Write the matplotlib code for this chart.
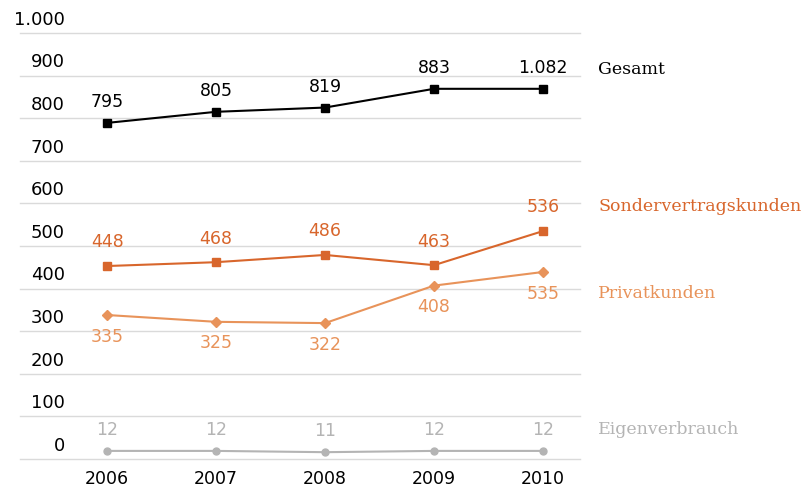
import numpy as np
import matplotlib
matplotlib.use('Agg')
import matplotlib.pyplot as plt
import matplotlib.transforms as mtrans

# data
years = [2006, 2007, 2008, 2009, 2010]
gesamt = [789, 815, 825, 869, 869]
sonder = [453, 462, 479, 455, 535]
privat = [338, 322, 319, 407, 439]
eigen = [19, 19, 16, 19, 19]

# printed labels (as in the original)
gesamt_lbl = ['795', '805', '819', '883', '1.082']
sonder_lbl = ['448', '468', '486', '463', '536']
privat_lbl = ['335', '325', '322', '408', '535']
eigen_lbl = ['12', '12', '11', '12', '12']

yticks = [0, 100, 200, 300, 400, 500, 600, 700, 800, 900, 1000]
ytick_lbl = ['0', '100', '200', '300', '400', '500', '600', '700', '800', '900', '1.000']

c_ges = '#000000'
c_son = '#D8662C'
c_pri = '#E8935A'
c_eig = '#B4B4B4'

W, H = 805, 493
fig = plt.figure(figsize=(W/100, H/100), dpi=100)
ax = fig.add_axes([20/W, 34/H, 560/W, 426/H])
ax.set_xlim(2005.2, 2010.34)
ax.set_ylim(0, 1000)
for s in ax.spines.values():
    s.set_visible(False)
ax.set_yticks([])
ax.set_xticks(years)
ax.set_xticklabels([str(y) for y in years], fontsize=12.5)
ax.tick_params(axis='x', length=0, pad=8)

for v in yticks:
    ax.axhline(v, color='#DADADA', lw=1, zorder=0, clip_on=False)

trans = mtrans.blended_transform_factory(ax.transAxes, ax.transData)
for v, l in zip(yticks, ytick_lbl):
    ax.annotate(l, xy=(0.08, v), xycoords=trans, xytext=(0, 9.5),
                textcoords='offset points', ha='right', va='center', fontsize=13)

ax.plot(years, gesamt, color=c_ges, marker='s', ms=6, lw=1.5)
ax.plot(years, sonder, color=c_son, marker='s', ms=6, lw=1.5)
ax.plot(years, privat, color=c_pri, marker='D', ms=5, lw=1.5)
ax.plot(years, eigen, color=c_eig, marker='o', ms=5, lw=1.5)

def labels(vals, lbls, col, dy):
    for x, v, l in zip(years, vals, lbls):
        ax.annotate(l, xy=(x, v), xytext=(0, dy), textcoords='offset points',
                    ha='center', va='center', color=col, fontsize=12.5)

labels(gesamt, gesamt_lbl, c_ges, 15)
labels(sonder, sonder_lbl, c_son, 17)
labels(privat, privat_lbl, c_pri, -15.5)
labels(eigen, eigen_lbl, c_eig, 15)

names = [('Gesamt', 70, c_ges), ('Sondervertragskunden', 207, c_son),
         ('Privatkunden', 293, c_pri), ('Eigenverbrauch', 430, c_eig)]
for t, py, col in names:
    fig.text(598/W, 1 - py/H, t, ha='left', va='center', color=col,
             fontsize=12.5, family='DejaVu Serif')

fig.savefig('out.png', dpi=100)
